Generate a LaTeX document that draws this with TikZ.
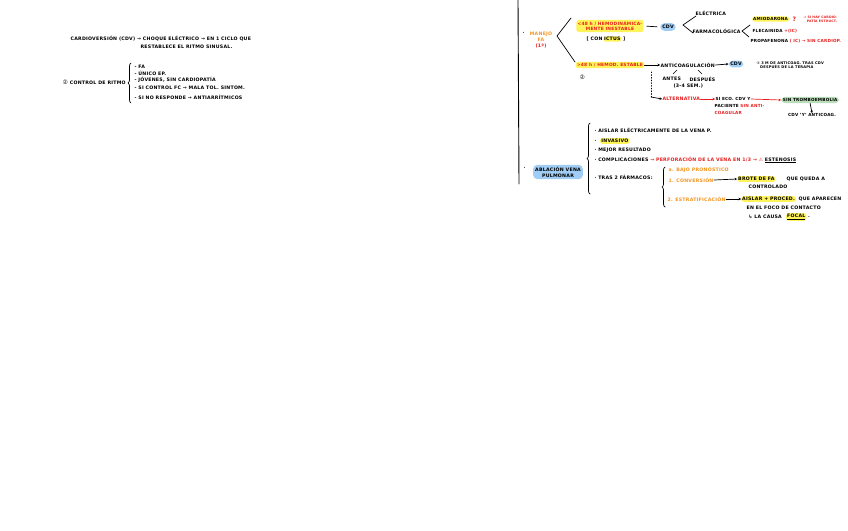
\documentclass[tikz,border=0pt]{standalone}
\usepackage{fontspec}
\setmainfont{DejaVu Sans}[LetterSpace=5]
\newfontfamily\symf{DejaVu Sans}
\usetikzlibrary{decorations.pathreplacing,arrows.meta}
\definecolor{cOr}{RGB}{245,150,35}
\definecolor{cRd}{RGB}{232,30,30}
\definecolor{cYl}{RGB}{255,243,90}
\definecolor{cBl}{RGB}{160,205,245}
\definecolor{cGr}{RGB}{185,222,185}
\newcommand{\circd}[1]{{\symf\mdseries #1}}
\tikzset{
  tx/.style={font=\fontsize{4.7}{5.8}\selectfont\bfseries, inner sep=0.4pt, anchor=west, align=left, text=black},
  sm/.style={tx, font=\fontsize{3.6}{4.6}\selectfont\bfseries},
  hly/.style={tx, fill=cYl, rounded corners=2.5pt, inner sep=1.3pt},
  hlb/.style={tx, fill=cBl, rounded corners=4pt, inner sep=2pt},
  hlg/.style={tx, fill=cGr, rounded corners=4pt, inner sep=2pt},
  ink/.style={draw=black, line width=0.7pt, line cap=round},
  arr/.style={ink, -{Stealth[length=2.5pt,width=2.5pt]}},
  brc/.style={ink, decorate, decoration={brace, amplitude=3pt}},
}
\begin{document}
\begin{tikzpicture}[x=1pt,y=-1pt]
\useasboundingbox (0,0) rectangle (848,530);
\fill[white] (0,0) rectangle (848,530);

% ---------- top left ----------
\node[tx] (cdva) at (70,39) {CARDIOVERSIÓN (CDV) → CHOQUE ELÉCTRICO → EN 1 CICLO QUE};
\node[tx] (cdvb) at (140,47) {RESTABLECE EL RITMO SINUSAL.};
\node[tx] (crit) at (62,82) {\circd{\fontsize{6}{6}\selectfont ②} CONTROL DE RITMO};
\draw[brc] (131,103) -- (131,63);
\node[tx] (cr1) at (134,67) {- FA};
\node[tx] (cr2) at (134,73) {- ÚNICO EP.};
\node[tx] (cr3) at (134,80) {- JÓVENES, SIN CARDIOPATÍA};
\node[tx] (cr4) at (134,88) {- SI CONTROL FC → MALA TOL. SINTOM.};
\node[tx] (cr5) at (134,97) {- SI NO RESPONDE → ANTIARRÍTMICOS};

% ---------- right: vertical rule ----------
\draw[ink, line width=0.9pt] (518,0) -- (519,184);

% MANEJO FA
\node[tx] (dot1) at (522,33) {·};
\node[tx, align=center, anchor=center, text=cOr] (manejo) at (541,40) {MANEJO\\FA\\\textcolor{cRd}{(1ª)}};
\coordinate (bp1) at (557,36);
\coordinate (bt1) at (571,18);
\coordinate (bb1) at (575,62);
\draw[ink] (bt1) -- (bp1) -- (bb1);

% <48 h
\node[hly, align=center, anchor=center, text=cRd, font=\fontsize{4.4}{5.6}\selectfont\bfseries] (lt48) at (610,26) {<48 h / HEMODINÁMICA-\\MENTE INESTABLE};
\node[tx] (bra) at (586,39) {[ CON};
\node[hly, inner sep=0.8pt] (brb) at (bra.east) {ICTUS};
\node[tx] (brc) at (brb.east) {\,]};
\node[hlb, anchor=center] (cdvn) at (668,27) {CDV};
\draw[ink, shorten <=3pt, shorten >=3pt] (lt48.east) -- (cdvn.west);
\node[tx] (elec) at (695,13) {ELÉCTRICA};
\node[tx] (farm) at (692,31) {FARMACOLÓGICA};
\coordinate (bp2) at (683,25);
\coordinate (bt2) at (696,16);
\coordinate (bb2) at (693,33);
\draw[ink] (bt2) -- (bp2) -- (bb2);
\coordinate (bp3) at (742,31);
\coordinate (bt3) at (750,25);
\coordinate (bb3) at (749,37);
\draw[ink] (bt3) -- (bp3) -- (bb3);
\node[hly, inner sep=1pt, font=\fontsize{4.2}{5}\selectfont\bfseries] (amio) at (752,19) {AMIODARONA};
\node[tx, text=cRd, font=\fontsize{6}{6}\selectfont\bfseries] (amq) at (792,19) {?};
\node[sm, text=cRd, font=\fontsize{3.2}{4.2}\selectfont\bfseries] (amn) at (803,19) {→ SI HAY CARDIO-\\\quad PATÍA ESTRUCT.};
\node[tx, font=\fontsize{4.2}{5}\selectfont\bfseries] (flec) at (752,31) {FLECAINIDA \textcolor{cRd}{+(IC)}};
\node[tx, font=\fontsize{4.2}{5}\selectfont\bfseries] (prop) at (750,41) {PROPAFENONA \textcolor{cRd}{( IC) → SIN CARDIOP.}};

% >48 h
\node[hly, align=center, anchor=center, text=cRd, font=\fontsize{4.4}{5.6}\selectfont\bfseries] (gt48) at (610,65) {>48 h / HEMOD. ESTABLE};
\node[tx] (circ) at (579,77) {\circd{\fontsize{6}{6}\selectfont ②}};
\node[tx] (antic) at (660,65) {ANTICOAGULACIÓN};
\draw[arr] (gt48.east) -- (antic.west);
\node[hlb, anchor=center, inner sep=1.6pt] (cdv3) at (736,64) {CDV};
\draw[arr] (antic.east) -- (cdv3.west);
\node[tx] (antes) at (662,79) {ANTES};
\node[tx] (desp) at (689,79) {DESPUÉS};
\node[tx] (sem) at (673,86) {(3-4 SEM.)};
\coordinate (sl1a) at (677,70);
\coordinate (sl1b) at (673,74);
\coordinate (sl2a) at (698,70);
\coordinate (sl2b) at (702,74);
\draw[ink, line width=0.5pt] (sl1a) -- (sl1b);
\draw[ink, line width=0.5pt] (sl2a) -- (sl2b);
\node[sm] (tresm) at (756,65) {\circd{③} 3 M DE ANTICOAG. TRAS CDV\\\quad DESPUÉS DE LA TERAPIA};

% alternative
\coordinate (dt1) at (651,72);
\coordinate (dt2) at (651,97);
\draw[ink, dotted, line width=0.9pt] (dt1) -- (dt2);
\node[tx, text=cRd] (alt) at (662,99) {ALTERNATIVA};
\draw[arr] (dt2) -- (alt.west);
\node[tx, font=\fontsize{4.2}{5}\selectfont\bfseries] (eco) at (715,99) {SI ECO. CDV Y};
\draw[arr, draw=cRd] (alt.east) -- (eco.west);
\node[tx, font=\fontsize{4.2}{5}\selectfont\bfseries] (pac) at (714,106) {PACIENTE \textcolor{cRd}{SIN ANTI-}};
\node[tx, text=cRd, font=\fontsize{4.2}{5}\selectfont\bfseries] (coag) at (714,113) {COAGULAR};
\node[hlg, inner sep=1.6pt, font=\fontsize{4.2}{5}\selectfont\bfseries] (trom) at (781,100) {SIN TROMBOEMBOLIA};
\draw[arr, draw=cRd] (eco.east) -- (trom.west);
\node[tx, anchor=north, font=\fontsize{4.2}{5}\selectfont\bfseries] (cdvy) at (812,113) {CDV 'Y' ANTICOAG.};
\draw[arr] (trom.south) -- (cdvy.north);

% ---------- ablation ----------
\node[tx] (dot2) at (523,168) {·};
\node[hlb, align=center, anchor=center] (abl) at (558,172) {ABLACIÓN VENA\\PULMONAR};
\draw[brc] (590,194) -- (590,123);
\node[tx] (ab1) at (594,130) {· AISLAR ELÉCTRICAMENTE DE LA VENA P.};
\node[tx] (ab2a) at (594,141) {·};
\node[hly, inner sep=1.2pt] (ab2) at (600,141) {INVASIVO};
\node[tx] (ab3) at (594,150) {· MEJOR RESULTADO};
\node[tx] (ab4) at (594,160) {· COMPLICACIONES \textcolor{cRd}{→ PERFORACIÓN DE LA VENA EN 1/3 → \circd{⚠}} \underline{ESTENOSIS}};
\node[tx] (ab5) at (594,177) {· TRAS 2 FÁRMACOS:};
\draw[brc] (665,207) -- (665,167);
\node[tx, text=cOr] (s1) at (668,170) {a. BAJO PRONÓSTICO};
\node[tx, text=cOr] (s2) at (668,180) {1. CONVERSIÓN};
\node[hly, inner sep=1pt] (s2b) at (737,179) {BROTE DE FA};
\draw[arr] (s2.east) -- (s2b.west);
\node[tx] (s2c) at (786,179) {QUE QUEDA A};
\node[tx] (s2d) at (748,187) {CONTROLADO};
\node[tx, text=cOr] (s3) at (667,199) {2. ESTRATIFICACIÓN};
\node[hly, inner sep=1pt] (s3b) at (741,199) {AISLAR + PROCED.};
\draw[arr] (s3.east) -- (s3b.west);
\node[tx] (s3c) at (798,199) {QUE APARECEN};
\node[tx] (s3d) at (746,208) {EN EL FOCO DE CONTACTO};
\node[tx] (s3e) at (748,217) {↳ LA CAUSA};
\node[hly, inner sep=1pt] (s3f) at (786,217) {\underline{FOCAL}};
\node[tx] (s3g) at (s3f.east) {\,.};
\end{tikzpicture}
\end{document}
